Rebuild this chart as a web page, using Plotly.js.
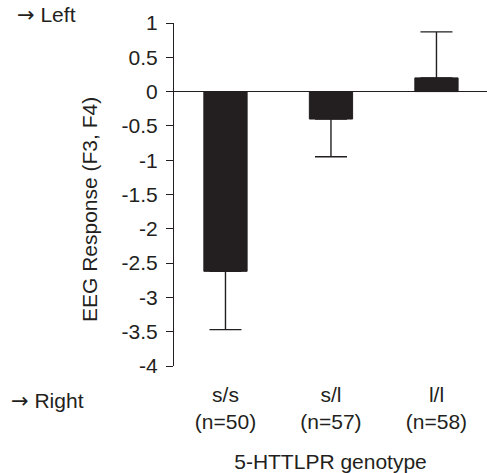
<!DOCTYPE html>
<html>
<head>
<meta charset="utf-8">
<script src="https://cdn.plot.ly/plotly-3.0.1.min.js"></script>
<style>html,body{margin:0;padding:0;background:#fff;}#chart{width:487px;height:473px;}</style>
</head>
<body>
<div id="chart"></div>
<script>
const categories = ["s/s<br>(n=50)", "s/l<br>(n=57)", "l/l<br>(n=58)"];
const responseValues = [-2.62, -0.40, 0.20];
const errorUp = [0, 0, 0.67];
const errorDown = [0.85, 0.55, 0];
const yTickValues = [1, 0.5, 0, -0.5, -1, -1.5, -2, -2.5, -3, -3.5, -4];
const yTickLabels = ["1", "0.5", "0", "-0.5", "-1", "-1.5", "-2", "-2.5", "-3", "-3.5", "-4"];

const ink = "#231f20";
const fontFam = "'Liberation Sans', Arial, Helvetica, sans-serif";
const arrow = "<span style=\"font-family:'DejaVu Sans'\">\u2192</span>";

const trace = {
  type: "bar",
  x: [0, 1, 2],
  y: responseValues,
  width: 0.41,
  marker: {color: ink, line: {color: ink, width: 1}},
  error_y: {
    type: "data",
    symmetric: false,
    array: errorUp,
    arrayminus: errorDown,
    color: ink,
    thickness: 1.4,
    width: 16
  },
  hoverinfo: "none"
};

const layout = {
  width: 487,
  height: 473,
  margin: {l: 174, r: 0, t: 23, b: 107},
  paper_bgcolor: "#fff",
  plot_bgcolor: "#fff",
  showlegend: false,
  font: {family: fontFam, size: 21, color: ink},
  xaxis: {
    range: [-0.488, 2.479],
    tickmode: "array",
    tickvals: [0, 1, 2],
    ticktext: categories,
    ticks: "",
    showline: false,
    showgrid: false,
    zeroline: false,
    ticklabelstandoff: 14,
    tickfont: {size: 21, color: ink},
    title: {text: "5-HTTLPR genotype", font: {size: 21, color: ink}, standoff: 22}
  },
  yaxis: {
    range: [-4, 1],
    tickmode: "array",
    tickvals: yTickValues,
    ticktext: yTickLabels,
    ticks: "outside",
    ticklen: 7,
    tickwidth: 1,
    tickcolor: ink,
    showline: true,
    linecolor: ink,
    linewidth: 1,
    showgrid: false,
    zeroline: true,
    zerolinecolor: ink,
    zerolinewidth: 1.3,
    ticklabelstandoff: 4,
    tickfont: {size: 21, color: ink}
  },
  annotations: [
    {text: "EEG Response (F3, F4)", xref: "paper", yref: "paper", x: -0.268, y: 0.455,
     xanchor: "center", yanchor: "middle", textangle: -90, showarrow: false,
     font: {size: 21, color: ink}},
    {text: arrow + " Left", xref: "paper", yref: "paper", x: -0.508, y: 1.023,
     xanchor: "left", yanchor: "middle", showarrow: false, font: {size: 21, color: ink}},
    {text: arrow + " Right", xref: "paper", yref: "paper", x: -0.527, y: -0.102,
     xanchor: "left", yanchor: "middle", showarrow: false, font: {size: 21, color: ink}}
  ]
};

Plotly.newPlot("chart", [trace], layout, {displayModeBar: false, staticPlot: true});
</script>
</body>
</html>
